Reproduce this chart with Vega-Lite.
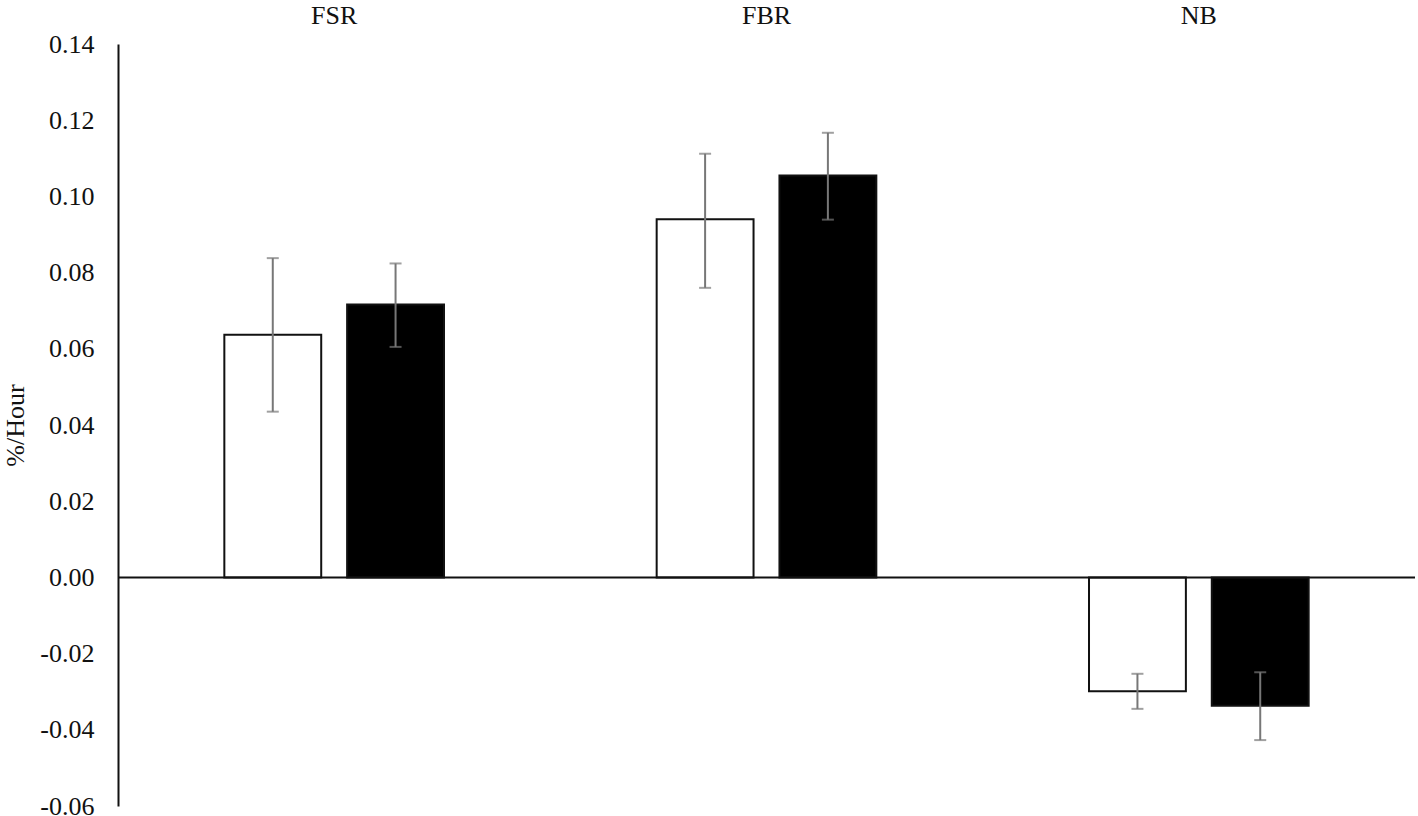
{
  "$schema": "https://vega.github.io/schema/vega-lite/v6.json",
  "autosize": "none",
  "padding": {"left": 118, "top": 44, "right": 3, "bottom": 10},
  "width": 1297,
  "height": 762,
  "background": "white",
  "config": {
    "view": {"stroke": null},
    "font": "Liberation Serif",
    "axis": {"grid": false, "labelFont": "Liberation Serif", "titleFont": "Liberation Serif", "labelColor": "#111", "titleColor": "#111"}
  },
  "data": {
    "values": [
      {"group": "FSR", "series": "A", "value": 0.0637, "lo": 0.0435, "hi": 0.0838},
      {"group": "FSR", "series": "B", "value": 0.0716, "lo": 0.0605, "hi": 0.0824},
      {"group": "FBR", "series": "A", "value": 0.0940, "lo": 0.0760, "hi": 0.1112},
      {"group": "FBR", "series": "B", "value": 0.1055, "lo": 0.0939, "hi": 0.1167},
      {"group": "NB", "series": "A", "value": -0.0299, "lo": -0.0345, "hi": -0.0253},
      {"group": "NB", "series": "B", "value": -0.0337, "lo": -0.0427, "hi": -0.0249}
    ]
  },
  "encoding": {
    "x": {
      "field": "group", "type": "nominal", "sort": ["FSR", "FBR", "NB"],
      "scale": {"paddingInner": 0.432, "paddingOuter": 0.216},
      "axis": {"orient": "top", "title": null, "domain": false, "ticks": false, "labelAngle": 0, "labelFontSize": 26, "labelPadding": 16}
    },
    "xOffset": {
      "field": "series", "type": "nominal", "sort": ["A", "B"],
      "scale": {"paddingInner": 0.211, "paddingOuter": 0.1055}
    }
  },
  "layer": [
    {
      "mark": {"type": "bar", "stroke": "#111", "strokeWidth": 2},
      "encoding": {
        "y": {
          "field": "value", "type": "quantitative",
          "scale": {"domain": [-0.06, 0.14], "nice": false, "zero": false},
          "axis": {
            "title": "%/Hour", "titleFontSize": 26, "titleFontWeight": "normal", "titlePadding": 11,
            "labelExpr": "datum.value < -0.0001 ? '-' + format(-datum.value, '.2f') : format(abs(datum.value), '.2f')",
            "values": [-0.06, -0.04, -0.02, 0, 0.02, 0.04, 0.06, 0.08, 0.1, 0.12, 0.14],
            "labelFontSize": 26, "labelPadding": 24, "ticks": false,
            "domain": true, "domainColor": "#111", "domainWidth": 2
          }
        },
        "fill": {
          "field": "series", "type": "nominal",
          "scale": {"domain": ["A", "B"], "range": ["#ffffff", "#000000"]},
          "legend": null
        }
      }
    },
    {
      "mark": {"type": "rule", "color": "#777777", "strokeWidth": 2},
      "encoding": {
        "y": {"field": "lo", "type": "quantitative"},
        "y2": {"field": "hi"}
      }
    },
    {
      "mark": {"type": "tick", "color": "#777777", "thickness": 2, "size": 12, "orient": "horizontal"},
      "encoding": {"y": {"field": "lo", "type": "quantitative"}}
    },
    {
      "mark": {"type": "tick", "color": "#777777", "thickness": 2, "size": 12, "orient": "horizontal"},
      "encoding": {"y": {"field": "hi", "type": "quantitative"}}
    },
    {
      "data": {"values": [{"z": 0}]},
      "mark": {"type": "rule", "color": "#111", "strokeWidth": 2},
      "encoding": {"x": null, "xOffset": null, "y": {"field": "z", "type": "quantitative"}}
    }
  ]
}
